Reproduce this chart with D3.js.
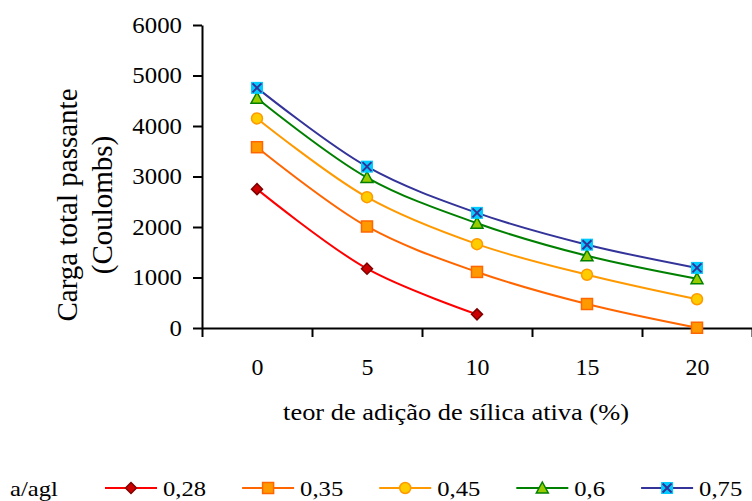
<!DOCTYPE html>
<html><head><meta charset="utf-8">
<script src="https://cdn.jsdelivr.net/npm/d3@7"></script>
<style>
body{margin:0;background:#fff;}
svg{display:block;}
</style></head>
<body>
<svg id="c" width="752" height="501"></svg>
<script>
const categories = ["0","5","10","15","20"];
const seriesNames = ["0,28","0,35","0,45","0,6","0,75"];
const s028 = [2750, 1175, 270];
const s035 = [3580, 2010, 1110, 475, 5];
const s045 = [4150, 2590, 1660, 1055, 570];
const s060 = [4550, 2980, 2075, 1430, 975];
const s075 = [4755, 3195, 2280, 1650, 1190];
const yTicks = [0,1000,2000,3000,4000,5000,6000];
const legendTitle = "a/agl";
const xTitle = "teor de adição de sílica ativa (%)";
const yTitle = ["Carga total passante", "(Coulombs)"];

const seriesValues = [s028, s035, s045, s060, s075];
const styles = [
  {line:"#FF0000", fill:"#CC0000", stroke:"#800000", shape:"diamond"},
  {line:"#FF6600", fill:"#FF9900", stroke:"#FF6600", shape:"square"},
  {line:"#FF9900", fill:"#FFCC00", stroke:"#FF9900", shape:"circle"},
  {line:"#008000", fill:"#99CC00", stroke:"#008000", shape:"triangle"},
  {line:"#333399", fill:"#00CCFF", stroke:"#333399", shape:"xsquare"}
];
const FONT = '"Liberation Serif", serif';

const svg = d3.select("#c");
const L = 202, R = 752, T = 25, B = 328;
const x = d3.scaleLinear().domain([-0.5, categories.length - 0.5]).range([L, R]);
const y = d3.scaleLinear().domain([0, 6000]).range([B, T]);

function fontify(sel, fs){ sel.style("font-family", FONT).style("font-size", fs + "px").style("fill", "#000"); }
function stretchText(sel, sx){
  sel.each(function(){
    const t = d3.select(this);
    const tx = +t.attr("x") || 0;
    t.attr("x", 0).attr("transform", `translate(${tx},0) scale(${sx},1)`);
  });
}

// y axis
const ya = svg.append("g").attr("transform", `translate(${L},0)`)
  .call(d3.axisLeft(y).tickValues(yTicks).tickSize(9).tickSizeOuter(0).tickPadding(11).tickFormat(d3.format("d")));
ya.select(".domain").attr("stroke","#000").attr("stroke-width",2);
ya.selectAll(".tick line").attr("stroke","#000").attr("stroke-width",2);
ya.selectAll("text").call(fontify, 23).call(stretchText, 1.08);

// x axis ticks at category boundaries
const bounds = d3.range(categories.length + 1).map(i => i - 0.5);
const xa = svg.append("g").attr("transform", `translate(0,${B})`)
  .call(d3.axisBottom(x).tickValues(bounds).tickSize(9).tickSizeOuter(0).tickFormat(""));
xa.select(".domain").attr("stroke","#000").attr("stroke-width",2);
xa.selectAll(".tick line").attr("stroke","#000").attr("stroke-width",2);
const xl = svg.append("g").attr("transform", `translate(0,${B})`)
  .call(d3.axisBottom(x).tickValues(d3.range(categories.length)).tickSize(0).tickPadding(31).tickFormat(i => categories[i]));
xl.select(".domain").remove();
xl.selectAll("text").call(fontify, 23).call(stretchText, 1.04);

// titles
svg.append("text").attr("text-anchor","middle").call(fontify, 24)
  .attr("transform",`translate(456,420) scale(1.1,1)`).text(xTitle);
yTitle.forEach((t,i)=>{
  svg.append("text").attr("text-anchor","middle").call(fontify, 29)
    .attr("transform",`translate(${77 + i*35},205) rotate(-90)`).text(t);
});

// lines
const line = d3.line().x((d,i)=>x(i)).y(d=>y(d)).curve(d3.curveCatmullRom.alpha(0.5));
const marker = (g, st, cx, cy) => {
  if (st.shape === "diamond") {
    g.append("path").attr("d",`M${cx},${cy-5.5}L${cx+5.5},${cy}L${cx},${cy+5.5}L${cx-5.5},${cy}Z`)
      .attr("fill",st.fill).attr("stroke",st.stroke).attr("stroke-width",1.5);
  } else if (st.shape === "square") {
    g.append("rect").attr("x",cx-5.5).attr("y",cy-5.5).attr("width",11).attr("height",11)
      .attr("fill",st.fill).attr("stroke",st.stroke).attr("stroke-width",1.5);
  } else if (st.shape === "circle") {
    g.append("circle").attr("cx",cx).attr("cy",cy).attr("r",5.5)
      .attr("fill",st.fill).attr("stroke",st.stroke).attr("stroke-width",1.5);
  } else if (st.shape === "triangle") {
    g.append("path").attr("d",`M${cx},${cy-6}L${cx+6},${cy+5}L${cx-6},${cy+5}Z`)
      .attr("fill",st.fill).attr("stroke",st.stroke).attr("stroke-width",1.5);
  } else {
    g.append("rect").attr("x",cx-6).attr("y",cy-6).attr("width",12).attr("height",12).attr("fill",st.fill);
    g.append("path").attr("d",`M${cx-4.5},${cy-4.5}L${cx+4.5},${cy+4.5}M${cx+4.5},${cy-4.5}L${cx-4.5},${cy+4.5}`)
      .attr("stroke",st.stroke).attr("stroke-width",2);
  }
};
seriesValues.forEach((vals, si) => {
  const st = styles[si];
  const g = svg.append("g");
  g.append("path").datum(vals).attr("d", line).attr("fill","none").attr("stroke",st.line).attr("stroke-width",2);
  vals.forEach((v,i)=> marker(g, st, x(i), y(v)));
});

// legend
const ly = 488, LSX = 1.12;
svg.append("text").call(fontify, 22)
  .attr("transform",`translate(10,${ly+8}) scale(${LSX},1)`).text(legendTitle);
let lx = 105;
seriesNames.forEach((n, si) => {
  const st = styles[si];
  const g = svg.append("g");
  g.append("line").attr("x1",lx).attr("x2",lx+52).attr("y1",ly).attr("y2",ly).attr("stroke",st.line).attr("stroke-width",2);
  marker(g, st, lx+26, ly);
  const t = g.append("text").call(fontify, 22)
    .attr("transform",`translate(${lx+58},${ly+8}) scale(${LSX},1)`).text(n);
  const w = t.node().getComputedTextLength() * LSX;
  lx = lx + 58 + w + 36;
});
</script>
</body></html>
